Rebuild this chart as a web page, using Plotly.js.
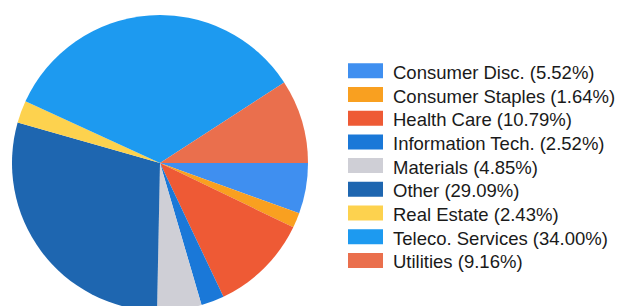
<!DOCTYPE html>
<html>
<head>
<meta charset="utf-8">
<script src="https://cdn.plot.ly/plotly-3.0.1.min.js"></script>
<style>
html,body{margin:0;padding:0;background:#fff;overflow:hidden;width:618px;height:306px;}
#chart{width:618px;height:322px;}
</style>
</head>
<body>
<div id="chart"></div>
<script>
const categories = ["Consumer Disc.", "Consumer Staples", "Health Care", "Information Tech.", "Materials", "Other", "Real Estate", "Teleco. Services", "Utilities"];
const values = [5.52, 1.64, 10.79, 2.52, 4.85, 29.09, 2.43, 34.00, 9.16];
const colors = ["#3f8ff0", "#f9a020", "#ee5a35", "#1a78d8", "#cfcfd6", "#1e66b0", "#fdd24e", "#1d9af0", "#ea6f4d"];

const labels = categories.map((c, i) => c + " (" + values[i].toFixed(2) + "%)");

const W = 618, H = 322;

const trace = {
  type: "pie",
  labels: labels,
  values: values,
  sort: false,
  direction: "clockwise",
  rotation: 90,
  textinfo: "none",
  hoverinfo: "label",
  showlegend: false,
  marker: {colors: colors, line: {width: 0}},
  domain: {x: [12/W, 308/W], y: [11/H, 307/H]}
};

// Legend layout (pixel positions of the legend block)
const legTop = 70.8, legStep = 23.7, boxL = 348, boxR = 383, boxH = 15, textL = 392;
const shapes = [], annotations = [];
labels.forEach((lab, i) => {
  const cy = legTop + i * legStep;
  shapes.push({
    type: "rect", xref: "paper", yref: "paper",
    x0: boxL / W, x1: boxR / W,
    y0: 1 - (cy + boxH / 2) / H, y1: 1 - (cy - boxH / 2) / H,
    fillcolor: colors[i], line: {width: 0}
  });
  annotations.push({
    xref: "paper", yref: "paper",
    x: textL / W, y: 1 - (cy + 1.5) / H,
    xanchor: "left", yanchor: "middle",
    text: lab, showarrow: false, borderpad: 0,
    font: {family: "'Liberation Sans', Arial, sans-serif", size: 18.5, color: "#1a1a1a"}
  });
});

const layout = {
  width: W,
  height: H,
  margin: {l: 0, r: 0, t: 0, b: 0},
  paper_bgcolor: "#fff",
  showlegend: false,
  shapes: shapes,
  annotations: annotations
};

Plotly.newPlot("chart", [trace], layout, {displayModeBar: false, staticPlot: true});
</script>
</body>
</html>
